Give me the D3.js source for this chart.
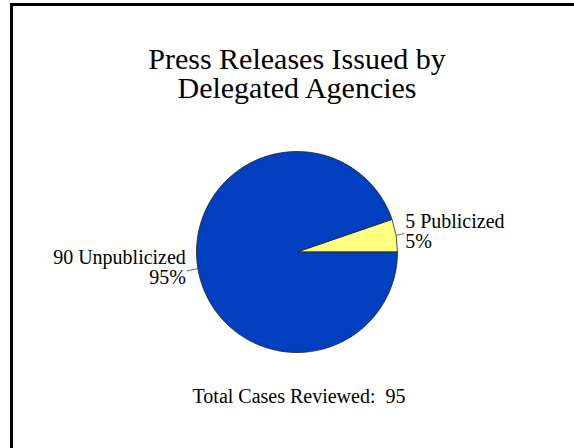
<!DOCTYPE html>
<html>
<head>
<meta charset="utf-8">
<script src="https://cdn.jsdelivr.net/npm/d3@7"></script>
<style>
  html, body { margin: 0; padding: 0; background: #fff; }
  svg { display: block; }
  text { font-family: "Liberation Serif", "Times New Roman", serif; fill: #000; }
</style>
</head>
<body>
<svg id="chart" width="574" height="448"></svg>
<script>
const titleLines = ["Press Releases Issued by", "Delegated Agencies"];
const categories = ["Publicized", "Unpublicized"];
const values = [5, 90];
const colors = ["#FFFF80", "#0040C0"];
const footerLabel = "Total Cases Reviewed:";

const total = d3.sum(values);
const svg = d3.select("#chart");

// frame
svg.append("rect")
  .attr("x", 11.5).attr("y", 4.5)
  .attr("width", 620).attr("height", 500)
  .attr("fill", "none").attr("stroke", "#000").attr("stroke-width", 3);

// title
const cx = 297, cy = 252, r = 100.5;
svg.append("g").selectAll("text").data(titleLines).join("text")
  .attr("x", cx).attr("y", (d, i) => 69 + i * 29)
  .attr("text-anchor", "middle")
  .attr("font-size", 30)
  .text(d => d);

const data = categories.map((c, i) => ({ category: c, value: values[i], color: colors[i] }));
const pubFrac = values[0] / total;
const start = Math.PI / 2 - pubFrac * 2 * Math.PI;
const pie = d3.pie().sort(null).value(d => d.value)
  .startAngle(start).endAngle(start + 2 * Math.PI);
const arcs = pie(data);
const arc = d3.arc().innerRadius(0).outerRadius(r);

const g = svg.append("g").attr("transform", `translate(${cx},${cy})`);
g.selectAll("path").data(arcs).join("path")
  .attr("d", arc)
  .attr("fill", d => d.data.color)
  .attr("stroke", "#222")
  .attr("stroke-width", 0.8)
  .attr("stroke-linejoin", "round");

// leader lines and labels
const edge = d3.arc().innerRadius(r).outerRadius(r);
arcs.forEach((a, i) => {
  const mid = (a.startAngle + a.endAngle) / 2;
  const p0 = [Math.sin(mid) * r, -Math.cos(mid) * r];
  const right = Math.sin(mid) > 0;
  const p1 = right ? [p0[0] + 8, p0[1] - 2] : [p0[0] - 11, p0[1] + 2.5];
  g.append("line")
    .attr("x1", p0[0]).attr("y1", p0[1])
    .attr("x2", p1[0]).attr("y2", p1[1])
    .attr("stroke", "#444").attr("stroke-width", 0.8);
  const tx = right ? p1[0] + 1 : p1[0] - 1;
  const pct = Math.round(a.data.value / total * 100) + "%";
  const t = g.append("text")
    .attr("text-anchor", right ? "start" : "end")
    .attr("font-size", 20);
  const y0 = right ? p1[1] - 5 : p1[1] - 7;
  t.append("tspan").attr("x", tx).attr("y", y0).text(a.data.value + " " + a.data.category);
  t.append("tspan").attr("x", tx).attr("y", y0 + 19.5).text(pct);
});

// footer
svg.append("text")
  .attr("x", cx + 2).attr("y", 403)
  .attr("text-anchor", "middle")
  .attr("font-size", 20)
  .attr("xml:space", "preserve")
  .style("white-space", "pre")
  .text(footerLabel + "  " + total);
</script>
</body>
</html>
